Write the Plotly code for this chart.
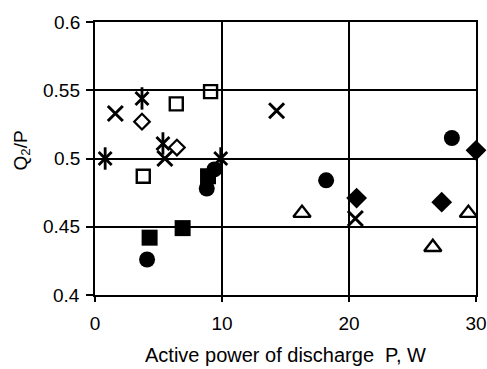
import plotly.graph_objects as go

# Q2/P versus active discharge power, grouped by marker series
asterisk_x = [0.8, 3.7, 5.35, 9.9]
asterisk_y = [0.500, 0.544, 0.511, 0.500]

cross_x = [1.6, 5.5, 14.3, 20.5]
cross_y = [0.533, 0.500, 0.535, 0.456]

diamond_open_x = [3.7, 6.45]
diamond_open_y = [0.527, 0.508]

square_open_x = [3.8, 6.4, 9.1]
square_open_y = [0.487, 0.540, 0.549]

circle_x = [4.1, 8.8, 9.4, 18.2, 28.1]
circle_y = [0.426, 0.478, 0.492, 0.484, 0.515]

square_x = [4.3, 6.9, 8.9]
square_y = [0.442, 0.449, 0.487]

diamond_x = [20.6, 27.3, 30.0]
diamond_y = [0.471, 0.468, 0.506]

triangle_x = [16.3, 26.6, 29.4]
triangle_y = [0.460, 0.435, 0.460]

x_ticks = [0, 10, 20, 30]
y_ticks = [0.4, 0.45, 0.5, 0.55, 0.6]
y_tick_text = ["0.4", "0.45", "0.5", "0.55", "0.6"]

x_title = "Active power of discharge  P, W"
y_title = "Q<sub>2</sub>/P"

fig = go.Figure()

def add(xs, ys, symbol, size, lw=2):
    fig.add_trace(go.Scatter(
        x=xs, y=ys, mode="markers", cliponaxis=False,
        marker=dict(symbol=symbol, size=size, color="black",
                    line=dict(color="black", width=lw)),
        showlegend=False,
    ))

# six-armed asterisk: a cross plus a vertical bar
add(asterisk_x, asterisk_y, "x-thin", 13, 2.8)
add(asterisk_x, asterisk_y, "line-ns", 16, 2.8)
add(cross_x, cross_y, "x-thin", 15, 3)
add(diamond_open_x, diamond_open_y, "diamond-open", 12, 2.2)
add(square_open_x, square_open_y, "square-open", 13, 2.4)
add(circle_x, circle_y, "circle", 16, 0)
add(square_x, square_y, "square", 16, 0)
add(diamond_x, diamond_y, "diamond", 16, 0)
add(triangle_x, triangle_y, "triangle-up-open", 15, 2.4)

font = dict(family="Liberation Sans, Arial, sans-serif", size=19, color="black")

# y tick labels placed close to the axis
for v, t in zip(y_ticks, y_tick_text):
    fig.add_annotation(x=0, xref="paper", y=v, yref="y", text=t,
                       showarrow=False, xanchor="right", yanchor="middle",
                       xshift=-13, font=font)

fig.add_annotation(x=0.5, xref="paper", y=0, yref="paper", text=x_title,
                   showarrow=False, xanchor="center", yanchor="middle",
                   yshift=-60, font=dict(size=20))
fig.add_annotation(x=0, xref="paper", y=0.5, yref="paper", text=y_title,
                   showarrow=False, xanchor="center", yanchor="middle",
                   textangle=-90, xshift=-74, yshift=8, font=dict(size=19))

fig.update_layout(
    width=487, height=369,
    margin=dict(l=95, r=11, t=22, b=74, autoexpand=False),
    paper_bgcolor="white", plot_bgcolor="white",
    font=font,
    xaxis=dict(
        range=[0, 30], tickvals=x_ticks, ticks="outside", ticklen=5,
        tickcolor="black", tickwidth=1.5, ticklabelstandoff=5,
        showgrid=True, gridcolor="black", gridwidth=1.8,
        showline=True, linecolor="black", linewidth=1.8, mirror=True,
        zeroline=False, tickfont=font,
    ),
    yaxis=dict(
        range=[0.4, 0.6], tickvals=y_ticks, showticklabels=False,
        ticks="outside", ticklen=7, tickcolor="black", tickwidth=1.5,
        showgrid=True, gridcolor="black", gridwidth=1.8,
        showline=True, linecolor="black", linewidth=1.8, mirror=True,
        zeroline=False,
    ),
)

fig.write_html("out.html")
